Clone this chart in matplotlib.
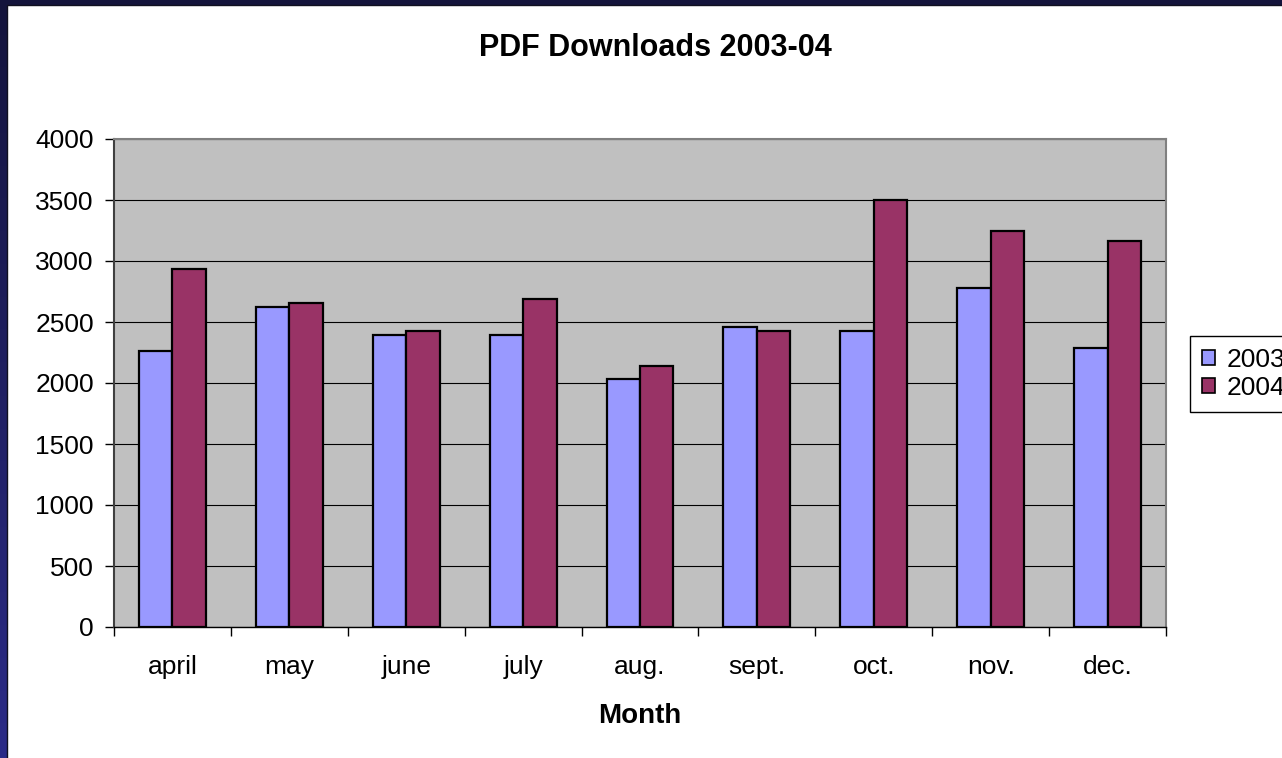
import matplotlib
matplotlib.use("Agg")
import matplotlib.pyplot as plt
import numpy as np
from matplotlib.patches import Rectangle, Patch

months = ["april", "may", "june", "july", "aug.", "sept.", "oct.", "nov.", "dec."]
series_names = ["2003", "2004"]
values_2003 = [2260, 2620, 2395, 2395, 2030, 2460, 2425, 2780, 2285]
values_2004 = [2935, 2655, 2430, 2690, 2140, 2425, 3500, 3245, 3160]
y_ticks = [0, 500, 1000, 1500, 2000, 2500, 3000, 3500, 4000]

plt.rcParams['font.family'] = ['Liberation Sans', 'DejaVu Sans']

W, H = 1282, 758
fig = plt.figure(figsize=(W / 100, H / 100), dpi=100)

# navy border background (gradient)
bg = fig.add_axes([0, 0, 1, 1], zorder=-10)
grad = np.linspace(0, 1, 256).reshape(-1, 1)
c_top = np.array([0x14, 0x14, 0x3c]) / 255
c_bot = np.array([0x2b, 0x2b, 0x88]) / 255
img = c_top[None, None, :] * (1 - grad[:, :, None]) + c_bot[None, None, :] * grad[:, :, None]
bg.imshow(img, aspect='auto', extent=[0, 1, 0, 1], origin='upper')
bg.add_patch(Rectangle((7 / W, -0.01), 1.1, 1.01 - 5 / H, facecolor='white', edgecolor='#101020', lw=1.0))
bg.set_xlim(0, 1)
bg.set_ylim(0, 1)
bg.axis('off')

left, right, top, bottom = 114 / W, 1166 / W, 139 / H, 627 / H
ax = fig.add_axes([left, 1 - bottom, right - left, bottom - top])
ax.set_facecolor('#C0C0C0')

x = np.arange(len(months))
w = 1 / 3.5
ax.bar(x - w / 2, values_2003, width=w, color='#9999FF', edgecolor='black', linewidth=1.6, zorder=3, label=series_names[0])
ax.bar(x + w / 2, values_2004, width=w, color='#993366', edgecolor='black', linewidth=1.6, zorder=3, label=series_names[1])

ax.set_xlim(-0.5, len(months) - 0.5)
ax.set_ylim(0, 4000)
ax.set_yticks(y_ticks)
ax.set_yticklabels([str(v) for v in y_ticks])
ax.yaxis.grid(True, color='black', linewidth=0.8, zorder=1)
ax.set_axisbelow(True)

ax.set_xticks(x)
ax.set_xticklabels(months)
ax.set_xticks(np.arange(-0.5, len(months)), minor=True)
ax.tick_params(axis='x', which='major', length=0, pad=20, labelsize=19)
ax.tick_params(axis='x', which='minor', length=6.5, width=1, color='black', direction='out')
ax.tick_params(axis='y', length=6.5, width=1, color='black', direction='out', pad=8, labelsize=19)

ax.spines['left'].set_color('#404040')
ax.spines['left'].set_linewidth(1.5)
ax.spines['bottom'].set_color('black')
ax.spines['bottom'].set_linewidth(1.0)
ax.spines['top'].set_color('#808080')
ax.spines['right'].set_color('#808080')
ax.spines['top'].set_linewidth(1.5)
ax.spines['right'].set_linewidth(1.5)

fig.text(655 / W, 1 - 48 / H, "PDF Downloads 2003-04", ha='center', va='center', fontsize=22, fontweight='bold')
fig.text(640 / W, 1 - 716 / H, "Month", ha='center', va='center', fontsize=20, fontweight='bold')

handles = [Patch(facecolor='#9999FF', edgecolor='black', lw=1.2),
           Patch(facecolor='#993366', edgecolor='black', lw=1.2)]
leg = fig.legend(handles, series_names, loc='upper left', bbox_to_anchor=(1190 / W, 1 - 336 / H),
                 frameon=True, fancybox=False, edgecolor='black', framealpha=1, fontsize=19,
                 handlelength=0.5, handleheight=0.5, handletextpad=0.45, labelspacing=0.15,
                 borderpad=0.45, borderaxespad=0)
leg.get_frame().set_linewidth(1.0)

fig.savefig("out.png", dpi=100)
